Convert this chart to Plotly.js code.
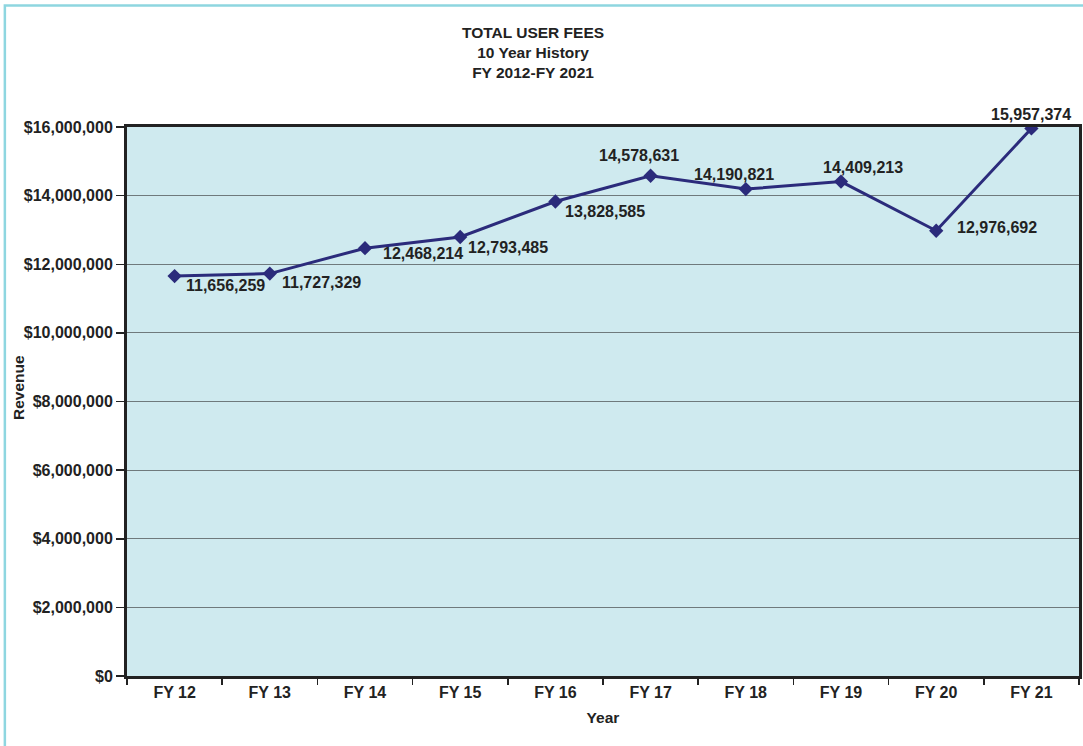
<!DOCTYPE html>
<html>
<head>
<meta charset="utf-8">
<script src="https://cdn.plot.ly/plotly-3.0.1.min.js"></script>
<style>
html,body{margin:0;padding:0;background:#fff;}
#chart{width:1083px;height:746px;}
</style>
</head>
<body>
<div id="chart"></div>
<script>
const years = ["FY 12","FY 13","FY 14","FY 15","FY 16","FY 17","FY 18","FY 19","FY 20","FY 21"];
const revenue = [11656259, 11727329, 12468214, 12793485, 13828585, 14578631, 14190821, 14409213, 12976692, 15957374];
const yTicks = [0, 2000000, 4000000, 6000000, 8000000, 10000000, 12000000, 14000000, 16000000];
const yTickText = ["$0","$2,000,000","$4,000,000","$6,000,000","$8,000,000","$10,000,000","$12,000,000","$14,000,000","$16,000,000"];
const titleLines = ["TOTAL USER FEES", "10 Year History", "FY 2012-FY 2021"];
const yTitle = "Revenue";
const xTitle = "Year";
// label placement offsets (pixels) per point
const labelDX = [51, 52, 58, 48, 50, -12, -12, 22, 61, 0];
const labelDY = [-9, -9, -5, -10, -10, 20, 15, 14, 3, 14];

const FONT = "Liberation Sans, Arial, sans-serif";
const fmt = v => v.toLocaleString("en-US");

const trace = {
  x: years, y: revenue, type: "scatter", mode: "lines+markers",
  line: {color: "#2b2b7b", width: 3},
  marker: {symbol: "diamond", size: 11, color: "#2b2b7b"},
  hoverinfo: "skip"
};

const annotations = years.map((yr, i) => ({
  x: yr, y: revenue[i], xref: "x", yref: "y",
  text: "<b>" + fmt(revenue[i]) + "</b>", showarrow: false,
  xshift: labelDX[i], yshift: labelDY[i],
  font: {family: FONT, size: 16, color: "#222"}
}));
annotations.push({
  xref: "paper", yref: "paper", x: 0.4265, y: 1.1348, xanchor: "center", yanchor: "middle",
  text: "<b>" + titleLines.join("<br>") + "</b>", showarrow: false,
  font: {family: FONT, size: 15.5, color: "#222"}
});
annotations.push({
  xref: "paper", yref: "paper", x: -0.1134, y: 0.5246, xanchor: "center", yanchor: "middle",
  text: "<b>" + yTitle + "</b>", textangle: -90, showarrow: false,
  font: {family: FONT, size: 15.5, color: "#222"}
});

const layout = {
  width: 1083, height: 746,
  margin: {l: 127, r: 4, t: 127, b: 70},
  paper_bgcolor: "#ffffff",
  plot_bgcolor: "#cfeaef",
  showlegend: false,
  xaxis: {
    type: "category", range: [-0.5, 9.5],
    tickson: "boundaries", ticks: "outside", ticklen: 6, tickwidth: 1.5, tickcolor: "#222",
    showgrid: false, zeroline: false,
    showline: true, mirror: true, linecolor: "#222", linewidth: 3,
    tickfont: {family: FONT, size: 16, color: "#222", weight: "bold"},
    title: {text: "<b>" + xTitle + "</b>", font: {family: FONT, size: 15.5, color: "#222"}, standoff: 12}
  },
  yaxis: {
    range: [0, 16000000], tickvals: yTicks, ticktext: yTickText,
    ticks: "outside", ticklen: 8, tickwidth: 1.5, tickcolor: "#222",
    showgrid: true, gridcolor: "#6f7a7c", gridwidth: 1.2, zeroline: false,
    showline: true, mirror: true, linecolor: "#222", linewidth: 3,
    tickfont: {family: FONT, size: 16, color: "#222", weight: "bold"}
  },
  annotations: annotations,
  shapes: [{
    type: "rect", xref: "paper", yref: "paper", layer: "below",
    x0: -0.1283, x1: 1.2, y0: -0.3, y1: 1.2213,
    line: {color: "#8ed6e0", width: 2.5}, fillcolor: "rgba(0,0,0,0)"
  }]
};

Plotly.newPlot("chart", [trace], layout, {displayModeBar: false, staticPlot: true});
</script>
</body>
</html>
